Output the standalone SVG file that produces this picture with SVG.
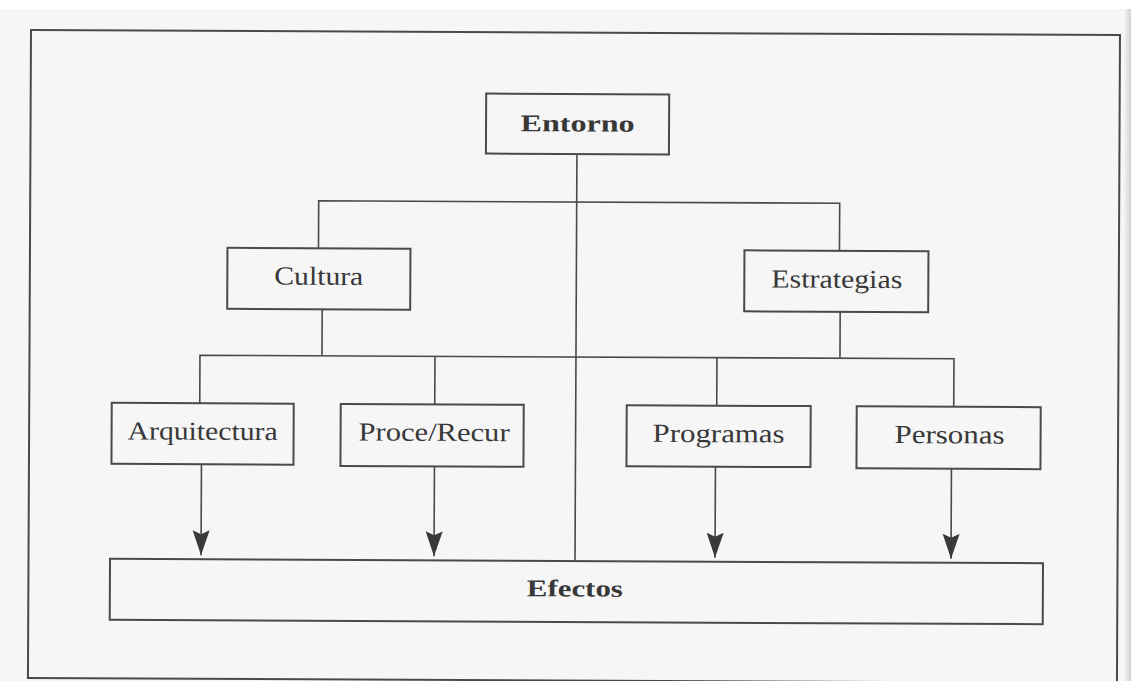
<svg xmlns="http://www.w3.org/2000/svg" width="1131" height="681" viewBox="0 0 1131 681">
  <defs>
    <marker id="arrow" markerUnits="userSpaceOnUse" markerWidth="26" markerHeight="18" viewBox="0 -9 26 18" refX="25" refY="0" orient="auto">
      <path d="M0,-8.5 L25,0 L0,8.5 L4,0 Z" fill="#3a3a3a"/>
    </marker>
    <linearGradient id="edge" x1="0" y1="0" x2="1" y2="0">
      <stop offset="0" stop-color="#f4f4f4"/>
      <stop offset="1" stop-color="#d0d0d0"/>
    </linearGradient>
  </defs>
  <style>
    .box { fill: none; stroke: #4a4a4a; stroke-width: 2; }
    .line { fill: none; stroke: #4a4a4a; stroke-width: 1.6; }
    .arr { fill: none; stroke: #4a4a4a; stroke-width: 1.6; marker-end: url(#arrow); }
    .lbl { font-family: "Liberation Serif", "DejaVu Serif", serif; font-size: 26px; fill: #383838; text-anchor: middle; }
    .bold { font-weight: bold; font-size: 24px; }
  </style>
  <rect x="0" y="0" width="1131" height="681" fill="#ffffff"/>
  <rect x="0" y="9" width="1131" height="672" fill="#f6f6f6"/>
  <rect x="1124" y="9" width="7" height="672" fill="url(#edge)"/>
  <g transform="rotate(0.27 575 350)">
    <rect id="frame" x="29.5" y="32.5" width="1089" height="648" class="box"/>
    <g id="connectors">
      <line class="line" x1="576" y1="154" x2="576" y2="561"/>
      <polyline class="line" points="318,249.5 318,202 839,202 839,249.5"/>
      <line class="line" x1="322" y1="310.5" x2="322" y2="357"/>
      <line class="line" x1="840" y1="310.5" x2="840" y2="357"/>
      <polyline class="line" points="200,405 200,357 954,357 954,405"/>
      <line class="line" x1="435" y1="357" x2="435" y2="405"/>
      <line class="line" x1="717" y1="357" x2="717" y2="405"/>
      <line class="arr" x1="202" y1="466" x2="202" y2="557"/>
      <line class="arr" x1="435" y1="467" x2="435" y2="557"/>
      <line class="arr" x1="716" y1="466" x2="716" y2="557"/>
      <line class="arr" x1="952" y1="467" x2="952" y2="557"/>
    </g>
    <g id="entorno">
      <rect class="box" x="485" y="94" width="183" height="60"/>
      <text class="lbl bold" x="576.5" y="131.5" textLength="114" lengthAdjust="spacingAndGlyphs">Entorno</text>
    </g>
    <g id="cultura">
      <rect class="box" x="227" y="249.5" width="183" height="61"/>
      <text class="lbl" x="318.5" y="286" textLength="89" lengthAdjust="spacingAndGlyphs">Cultura</text>
    </g>
    <g id="estrategias">
      <rect class="box" x="744" y="249.5" width="184" height="61"/>
      <text class="lbl" x="836.5" y="286.5" textLength="131" lengthAdjust="spacingAndGlyphs">Estrategias</text>
    </g>
    <g id="arquitectura">
      <rect class="box" x="112" y="405" width="182" height="61"/>
      <text class="lbl" x="203" y="441.5" textLength="150" lengthAdjust="spacingAndGlyphs">Arquitectura</text>
    </g>
    <g id="proce-recur">
      <rect class="box" x="341" y="405" width="183" height="62"/>
      <text class="lbl" x="434.5" y="441.5" textLength="151" lengthAdjust="spacingAndGlyphs">Proce/Recur</text>
    </g>
    <g id="programas">
      <rect class="box" x="627" y="405" width="184" height="61"/>
      <text class="lbl" x="719" y="441.5" textLength="132" lengthAdjust="spacingAndGlyphs">Programas</text>
    </g>
    <g id="personas">
      <rect class="box" x="857" y="405" width="184" height="62"/>
      <text class="lbl" x="950" y="441.5" textLength="110" lengthAdjust="spacingAndGlyphs">Personas</text>
    </g>
    <g id="efectos">
      <rect class="box" x="111" y="561" width="933" height="61"/>
      <text class="lbl bold" x="576" y="596.5" textLength="96" lengthAdjust="spacingAndGlyphs">Efectos</text>
    </g>
  </g>
</svg>
